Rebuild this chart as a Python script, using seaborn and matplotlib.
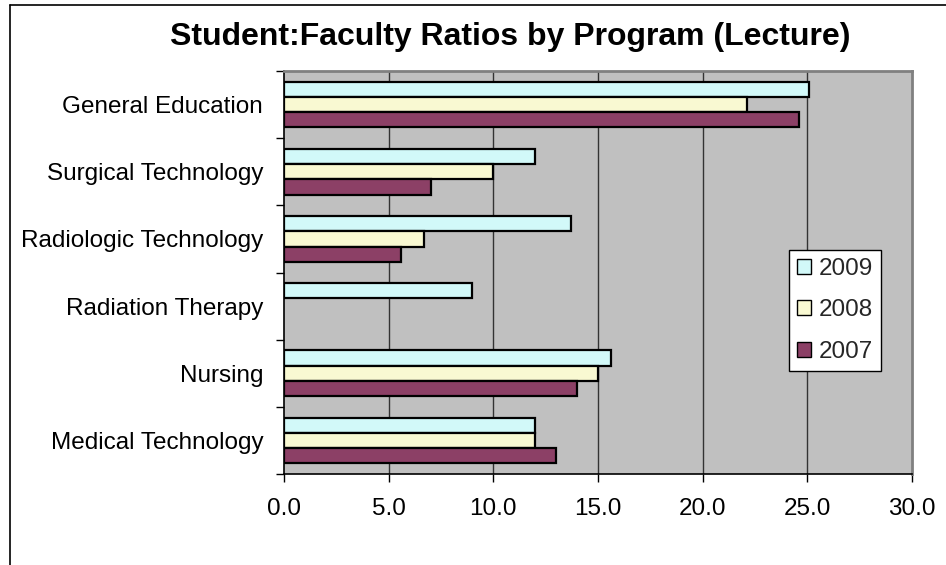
import matplotlib
matplotlib.use("Agg")
import matplotlib.pyplot as plt
import seaborn as sns
import pandas as pd
import numpy as np
from matplotlib.lines import Line2D

programs = ["General Education", "Surgical Technology", "Radiologic Technology",
            "Radiation Therapy", "Nursing", "Medical Technology"]
years = ["2009", "2008", "2007"]
vals_2009 = [25.1, 12.0, 13.7, 9.0, 15.6, 12.0]
vals_2008 = [22.1, 10.0, 6.7, np.nan, 15.0, 12.0]
vals_2007 = [24.6, 7.0, 5.6, np.nan, 14.0, 13.0]
xticks = [0, 5, 10, 15, 20, 25, 30]
colors = {"2009": "#CCFFFF", "2008": "#FFFFCC", "2007": "#993366"}

rows = []
for y, vals in zip(years, [vals_2009, vals_2008, vals_2007]):
    for p, v in zip(programs, vals):
        rows.append({"Program": p, "Year": y, "Ratio": v})
df = pd.DataFrame(rows)

sns.set_theme(style="white")
plt.rcParams['font.family'] = ['Liberation Sans', 'DejaVu Sans']

W, H = 946, 565
fig = plt.figure(figsize=(W/100, H/100), dpi=100)
fig.patch.set_facecolor("white")

# outer chart border
fig.add_artist(Line2D([9.5/W, 9.5/W], [0, 1 - 5/H], color="black", lw=1.2, transform=fig.transFigure))
fig.add_artist(Line2D([9.5/W, 1], [1 - 5/H, 1 - 5/H], color="black", lw=1.2, transform=fig.transFigure))

L, R, T, B = 284, 912, 71, 474
ax = fig.add_axes([L/W, 1 - B/H, (R-L)/W, (B-T)/H])
ax.set_facecolor("#C0C0C0")

sns.barplot(data=df, y="Program", x="Ratio", hue="Year", order=programs,
            hue_order=years, palette=colors, orient="h", width=0.68,
            edgecolor="black", linewidth=1.6, ax=ax, legend=True, zorder=3)

FS = 17.5
ax.set_xlim(0, 30)
ax.set_ylim(len(programs) - 0.5, -0.5)
ax.set_xticks(xticks)
ax.set_xticklabels([f"{t:.1f}" for t in xticks], fontsize=FS)
ax.set_xlabel("")
ax.set_ylabel("")
ax.tick_params(axis="y", which="major", length=0, pad=15, labelsize=FS)
ax.set_yticks(np.arange(-0.5, len(programs), 1.0), minor=True)
ax.tick_params(axis="y", which="minor", length=6, width=1, color="black", direction="out", left=True)
ax.tick_params(axis="x", which="major", length=6, width=1, color="black", direction="out", bottom=True, pad=11)
for t in ax.get_yticklabels() + ax.get_xticklabels():
    t.set_color("black")

ax.grid(False)
for x in xticks[1:-1]:
    ax.axvline(x, color="#333333", lw=1.0, zorder=1)

for s in ["left", "bottom"]:
    ax.spines[s].set_color("black")
    ax.spines[s].set_linewidth(1.2)
for s in ["top", "right"]:
    ax.spines[s].set_color("#808080")
    ax.spines[s].set_linewidth(2)
for s in ax.spines.values():
    s.set_zorder(4)

fig.text(510/W, 1 - 45/H, "Student:Faculty Ratios by Program (Lecture)",
         ha="center", va="baseline", fontsize=23, fontweight="bold", color="black")

handles, labels = ax.get_legend_handles_labels()
leg = ax.legend(handles, labels, loc="upper left",
                bbox_to_anchor=(789/W, 1 - 250/H), bbox_transform=fig.transFigure,
                frameon=True, fancybox=False, edgecolor="black", facecolor="white",
                fontsize=FS, handlelength=0.58, handleheight=0.58, handletextpad=0.33,
                labelspacing=0.8, borderpad=0.33, borderaxespad=0)
leg.get_frame().set_linewidth(1.0)
leg.get_frame().set_alpha(1)
for h in leg.legend_handles:
    h.set_edgecolor("black")
    h.set_linewidth(1.0)

fig.savefig("out.png", dpi=100)
